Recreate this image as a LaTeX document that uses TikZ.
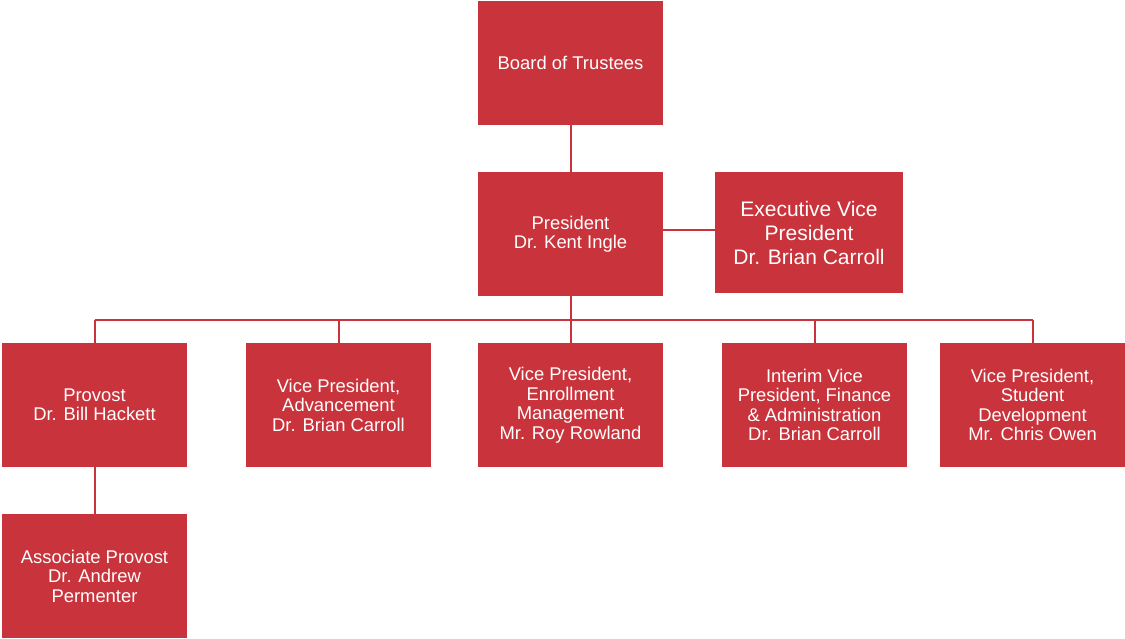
\documentclass[tikz,border=0pt]{standalone}
\usepackage{fontspec}
\setmainfont{Liberation Sans}
\usepackage{xcolor}
\usepackage{tikz}
\usetikzlibrary{calc}
\definecolor{boxred}{HTML}{C9333B}
\tikzset{
  unit/.style={fill=boxred, draw=none, minimum width=185pt, minimum height=124pt,
    inner sep=0pt, align=center, text=white, font=\fontsize{18.4}{19.5}\selectfont},
  big/.style={unit, minimum width=188pt, minimum height=121pt,
    font=\fontsize{21}{24}\selectfont},
  link/.style={draw=boxred, line width=2pt},
}
\begin{document}
\begin{tikzpicture}[x=1pt,y=-1pt]
  \useasboundingbox (0,0) rectangle (1125,638);
  % top of the chart
  \node[unit] (board) at (570.5,63) {Board of Trustees};
  \node[unit] (pres) at (570.5,234) {President\\Dr. Kent Ingle};
  \node[big] (evp) at (809,232.5) {Executive Vice\\President\\Dr. Brian Carroll};
  % vice presidents
  \node[unit] (provost) at (94.5,405) {Provost\\Dr. Bill Hackett};
  \node[unit] (vpadv) at (338.5,405) {Vice President,\\Advancement\\Dr. Brian Carroll};
  \node[unit] (vpenr) at (570.5,405) {Vice President,\\Enrollment\\Management\\Mr. Roy Rowland};
  \node[unit] (vpfin) at (814.5,405) {Interim Vice\\President, Finance\\\& Administration\\Dr. Brian Carroll};
  \node[unit] (vpstu) at (1032.5,405) {Vice President,\\Student\\Development\\Mr. Chris Owen};
  \node[unit] (assoc) at (94.5,576) {Associate Provost\\Dr. Andrew\\Permenter};
  % connectors
  \coordinate (bus) at (570.5,320);
  \coordinate (side) at ([yshift=4pt]pres.east);
  \draw[link] (board.south) -- (pres.north);
  \draw[link] (side) -- (side -| evp.west);
  \draw[link] (pres.south) -- (bus);
  \draw[link] (provost.north |- bus) -- (vpstu.north |- bus);
  \foreach \n in {provost,vpadv,vpenr,vpfin,vpstu}
    \draw[link] (\n.north |- bus) -- (\n.north);
  \draw[link] (provost.south) -- (assoc.north);
\end{tikzpicture}
\end{document}
